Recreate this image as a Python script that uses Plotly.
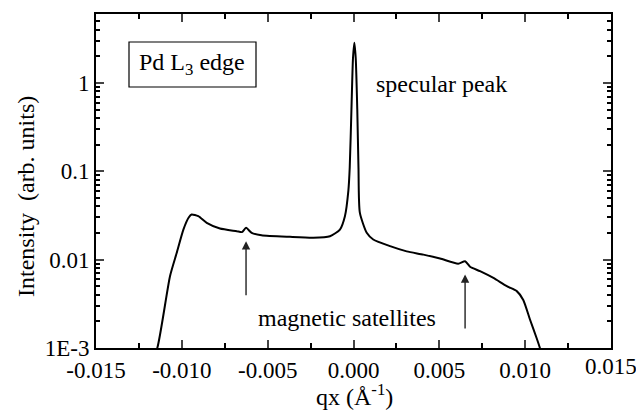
import numpy as np
import plotly.graph_objects as go

# ---- data ----
qx = [-0.0118, -0.01143, -0.01069, -0.0103, -0.00991, -0.00960, -0.00943, -0.00904, -0.00855,
      -0.00778, -0.0068, -0.0065, -0.00626, -0.00593, -0.00536, -0.0037, -0.00234,
      -0.00137, -0.00079, -0.0005, -0.0003, -0.00022, -0.00012, -0.00003, 0.00005,
      0.00013, 0.00022, 0.00029, 0.00037, 0.00077, 0.00115, 0.00213, 0.0031, 0.00407,
      0.00504, 0.0061, 0.0065, 0.00679, 0.00737, 0.00815, 0.00893, 0.00951, 0.00989,
      0.01028, 0.01067, 0.01086, 0.0110]
intensity = [0.0007, 0.001, 0.0065, 0.0119, 0.0219, 0.0300, 0.0324, 0.031, 0.0261,
             0.0225, 0.021, 0.0205, 0.0229, 0.0201, 0.0189, 0.0181, 0.0177,
             0.0184, 0.0219, 0.031, 0.06, 0.11, 0.5, 1.9, 2.85,
             1.9, 0.5, 0.11, 0.034, 0.0201, 0.0169, 0.0142, 0.0124, 0.0114,
             0.0103, 0.0090, 0.0096, 0.0083, 0.0074, 0.0062, 0.0050, 0.0044, 0.0035,
             0.0021, 0.00129, 0.001, 0.0008]

x_ticks = [-0.015, -0.010, -0.005, 0.000, 0.005, 0.010]
x_ticktext = ["-0.015", "-0.010", "-0.005", "0.000", "0.005", "0.010"]
x_edge_tick = 0.015
x_edge_ticktext = "0.015"
y_ticks = [0.001, 0.01, 0.1, 1]
y_ticktext = ["1E-3", "0.01", "0.1", "1"]

satellite_x = [-0.00626, 0.0065]
arrow_tip = [0.0162, 0.0068]
arrow_tail = [0.0038, 0.0016]

FONT = "Times New Roman, Liberation Serif, serif"
TXT = 24
TICK = 23
XMIN, XMAX = -0.015, 0.015

fig = go.Figure()
fig.add_trace(go.Scatter(x=qx, y=intensity, mode="lines",
                         line=dict(color="black", width=2, shape="spline", smoothing=0.6),
                         showlegend=False))

minor_y = [m * 10.0 ** e for e in range(-3, 1) for m in range(2, 10)]

fig.update_layout(
    width=636, height=412,
    margin=dict(l=96, r=25, t=14, b=64, autoexpand=False),
    paper_bgcolor="white", plot_bgcolor="white",
    font=dict(family=FONT, size=TXT, color="black"),
    xaxis=dict(range=[XMIN, XMAX], tickmode="array", tickvals=x_ticks + [x_edge_tick],
               ticktext=x_ticktext + [""], ticks="inside", ticklen=8, tickwidth=2,
               showline=True, linewidth=2, linecolor="black", mirror="allticks",
               showgrid=False, zeroline=False, automargin=False,
               minor=dict(tickmode="array", tickvals=[-0.0125, -0.0075, -0.0025, 0.0025, 0.0075, 0.0125],
                          ticks="inside", ticklen=5, tickwidth=2, tickcolor="black"),
               tickfont=dict(family=FONT, size=TICK)),
    yaxis=dict(type="log", range=[-3, 0.78], tickmode="array", tickvals=y_ticks,
               ticktext=y_ticktext, ticks="inside", ticklen=8, tickwidth=2,
               showline=True, linewidth=2, linecolor="black", mirror="allticks",
               showgrid=False, zeroline=False, automargin=False,
               minor=dict(tickmode="array", tickvals=minor_y, ticks="inside",
                          ticklen=4, tickwidth=1.5, tickcolor="black"),
               tickfont=dict(family=FONT, size=TICK)),
)

# last x tick label, at the right edge of the plot
fig.add_annotation(xref="paper", yref="paper", x=(x_edge_tick - XMIN) / (XMAX - XMIN),
                   y=(348 - 366) / 334, text=x_edge_ticktext, showarrow=False,
                   font=dict(family=FONT, size=TICK), xanchor="center", yanchor="middle")

# box around "Pd L3 edge"
fig.add_shape(type="rect", xref="paper", yref="paper",
              x0=(129 - 96) / 515, x1=(256 - 96) / 515,
              y0=(348 - 87) / 334, y1=(348 - 42) / 334,
              line=dict(color="black", width=1.2), fillcolor="white")
fig.add_annotation(xref="paper", yref="paper", x=(192 - 96) / 515, y=(348 - 64) / 334,
                   text="Pd L<sub>3</sub> edge", showarrow=False,
                   font=dict(family=FONT, size=TXT), xanchor="center", yanchor="middle")

fig.add_annotation(xref="paper", yref="paper", x=(374 - 96) / 515, y=(348 - 84) / 334,
                   text="specular peak", showarrow=False, font=dict(family=FONT, size=TXT),
                   xanchor="left", yanchor="middle")
fig.add_annotation(xref="paper", yref="paper", x=(256 - 96) / 515, y=(348 - 318) / 334,
                   text="magnetic satellites", showarrow=False, font=dict(family=FONT, size=TXT),
                   xanchor="left", yanchor="middle")

for sx, tip, tail in zip(satellite_x, arrow_tip, arrow_tail):
    fig.add_annotation(x=sx, y=np.log10(tip), ax=sx, ay=np.log10(tail),
                       xref="x", yref="y", axref="x", ayref="y",
                       showarrow=True, arrowhead=2, arrowsize=1.2, arrowwidth=1.4,
                       arrowcolor="#222", text="")

# axis titles
fig.add_annotation(xref="paper", yref="paper", x=(354 - 96) / 515, y=(348 - 395) / 334,
                   text="qx (Å<sup>-1</sup>)", showarrow=False, font=dict(family=FONT, size=TXT),
                   xanchor="center", yanchor="middle")
fig.add_annotation(xref="paper", yref="paper", x=(26 - 96) / 515, y=(348 - 197) / 334,
                   text="Intensity  (arb. units)", textangle=-90, showarrow=False,
                   font=dict(family=FONT, size=TXT), xanchor="center", yanchor="middle")

fig.write_html("out.html")
